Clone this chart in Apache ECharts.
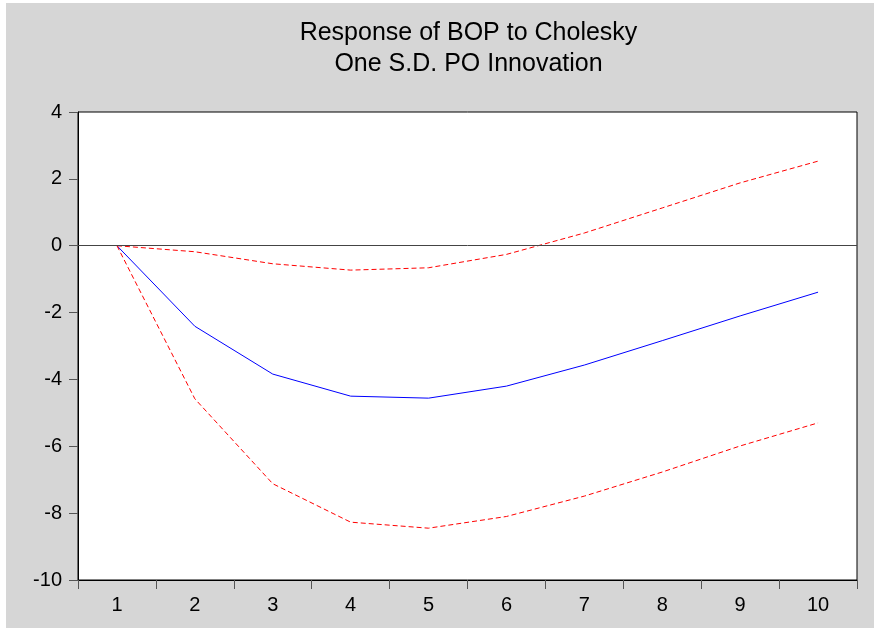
<!DOCTYPE html>
<html>
<head>
<meta charset="utf-8">
<script src="https://cdn.jsdelivr.net/npm/echarts@6/dist/echarts.min.js"></script>
<style>
  html, body { margin: 0; padding: 0; background: #fff; }
  #chart { position: absolute; left: 6px; top: 3px; width: 868px; height: 625px; background: #d6d6d6; }
</style>
</head>
<body>
<div id="chart"></div>
<script>
// impulse response periods
const periods = ['1', '2', '3', '4', '5', '6', '7', '8', '9', '10']
// response of BOP to PO shock
const response = [0, -2.41, -3.84, -4.50, -4.56, -4.20, -3.57, -2.84, -2.10, -1.39]
// +/- 2 S.E. bands
const upperBand = [0, -0.18, -0.54, -0.73, -0.66, -0.26, 0.38, 1.13, 1.88, 2.53]
const lowerBand = [0, -4.58, -7.12, -8.27, -8.45, -8.10, -7.49, -6.77, -5.99, -5.30]
const yTicks = { min: -10, max: 4, interval: 2 }

const font = 'Arial, "Liberation Sans", sans-serif'
const chart = echarts.init(document.getElementById('chart'))

const bandStyle = { color: '#ff0000', width: 1, type: [5, 3] }

chart.setOption({
  animation: false,
  backgroundColor: '#d6d6d6',
  title: {
    text: 'Response of BOP to Cholesky\nOne S.D. PO Innovation',
    left: 457.5,
    top: 10,
    textAlign: 'center',
    textStyle: { fontFamily: font, fontSize: 25, fontWeight: 'normal', color: '#000', lineHeight: 31 }
  },
  grid: {
    left: 72, right: 17, top: 109, bottom: 48,
    show: true, backgroundColor: '#fff', borderColor: '#000', borderWidth: 1
  },
  xAxis: {
    type: 'category',
    data: periods,
    boundaryGap: true,
    axisLine: { onZero: false, lineStyle: { color: '#000', width: 1 } },
    axisTick: { show: true, length: 9, lineStyle: { color: '#555' } },
    axisLabel: { fontFamily: font, fontSize: 20, color: '#000', margin: 15 },
    splitLine: { show: false }
  },
  yAxis: {
    type: 'value',
    min: yTicks.min,
    max: yTicks.max,
    interval: yTicks.interval,
    axisLine: { show: true, lineStyle: { color: '#000', width: 1 } },
    axisTick: { show: true, length: 9, lineStyle: { color: '#555' } },
    axisLabel: { fontFamily: font, fontSize: 20, color: '#000', margin: 16 },
    splitLine: { show: false }
  },
  series: [
    {
      type: 'line',
      data: response,
      symbol: 'none',
      lineStyle: { color: '#0000ff', width: 1 },
      z: 3,
      markLine: {
        silent: true,
        symbol: 'none',
        label: { show: false },
        lineStyle: { color: '#444', width: 1, type: 'solid' },
        data: [{ yAxis: 0 }]
      }
    },
    { type: 'line', data: upperBand, symbol: 'none', lineStyle: bandStyle },
    { type: 'line', data: lowerBand, symbol: 'none', lineStyle: bandStyle }
  ]
})
</script>
</body>
</html>
